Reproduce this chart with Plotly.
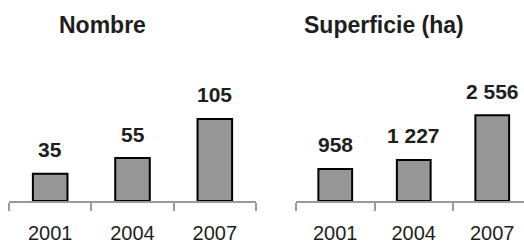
import plotly.graph_objects as go

years = ["2001", "2004", "2007"]
nombre = [35, 55, 105]
superficie = [958, 1227, 2556]
nombre_labels = ["35", "55", "105"]
superficie_labels = ["958", "1 227", "2 556"]
titles = ["Nombre", "Superficie (ha)"]

W, H = 524, 244
T, B = 44, 43
PH = H - T - B
TEXT = "#1e1e1e"
FONT = "Liberation Sans, Arial, sans-serif"

fig = go.Figure()
fig.add_trace(go.Bar(x=years, y=nombre, width=0.42, marker=dict(color="#969696", line=dict(color="#000000", width=2)),
                     xaxis="x", yaxis="y", hoverinfo="skip"))
fig.add_trace(go.Bar(x=years, y=superficie, width=0.43, marker=dict(color="#969696", line=dict(color="#000000", width=2)),
                     xaxis="x2", yaxis="y2", hoverinfo="skip"))

annotations = []
for i, (v, t) in enumerate(zip(nombre, nombre_labels)):
    annotations.append(dict(x=i, y=v, xref="x", yref="y", text="<b>%s</b>" % t, showarrow=False,
                            yanchor="middle", yshift=24, font=dict(size=21, color=TEXT, family=FONT)))
for i, (v, t) in enumerate(zip(superficie, superficie_labels)):
    annotations.append(dict(x=i, y=v, xref="x2", yref="y2", text="<b>%s</b>" % t, showarrow=False,
                            yanchor="middle", yshift=24, font=dict(size=21, color=TEXT, family=FONT)))
for cx, t in zip([102.5 / W, 383.5 / W], titles):
    annotations.append(dict(x=cx, y=(H - B - 25) / PH, xref="paper", yref="paper", text="<b>%s</b>" % t,
                            showarrow=False, xanchor="center", yanchor="middle",
                            font=dict(size=23, color=TEXT, family=FONT)))

xcommon = dict(type="category", showline=True, linecolor="#9a9a9a", linewidth=1.5, ticks="outside",
               tickson="boundaries", ticklen=8, tickcolor="#9a9a9a", tickwidth=1.5, showgrid=False,
               zeroline=False, tickfont=dict(size=20, color=TEXT, family=FONT), fixedrange=True,
               ticklabelstandoff=13, automargin=False)

fig.update_layout(
    width=W, height=H, margin=dict(l=0, r=0, t=T, b=B, autoexpand=False),
    paper_bgcolor="white", plot_bgcolor="white", showlegend=False,
    xaxis=dict(xcommon, domain=[9 / W, 256 / W], range=[-0.5, 2.5], anchor="y"),
    xaxis2=dict(xcommon, domain=[296 / W, 1], range=[-0.5, -0.5 + 228 / 78.5], anchor="y2"),
    yaxis=dict(visible=False, range=[0, PH / 0.781], domain=[0, 1], anchor="x", fixedrange=True, automargin=False),
    yaxis2=dict(visible=False, range=[0, PH / 0.0335], domain=[0, 1], anchor="x2", fixedrange=True, automargin=False),
    annotations=annotations,
)

fig.write_html("out.html", config={"displayModeBar": False},
               post_script="document.body.style.margin='0';document.body.style.overflow='hidden';")
